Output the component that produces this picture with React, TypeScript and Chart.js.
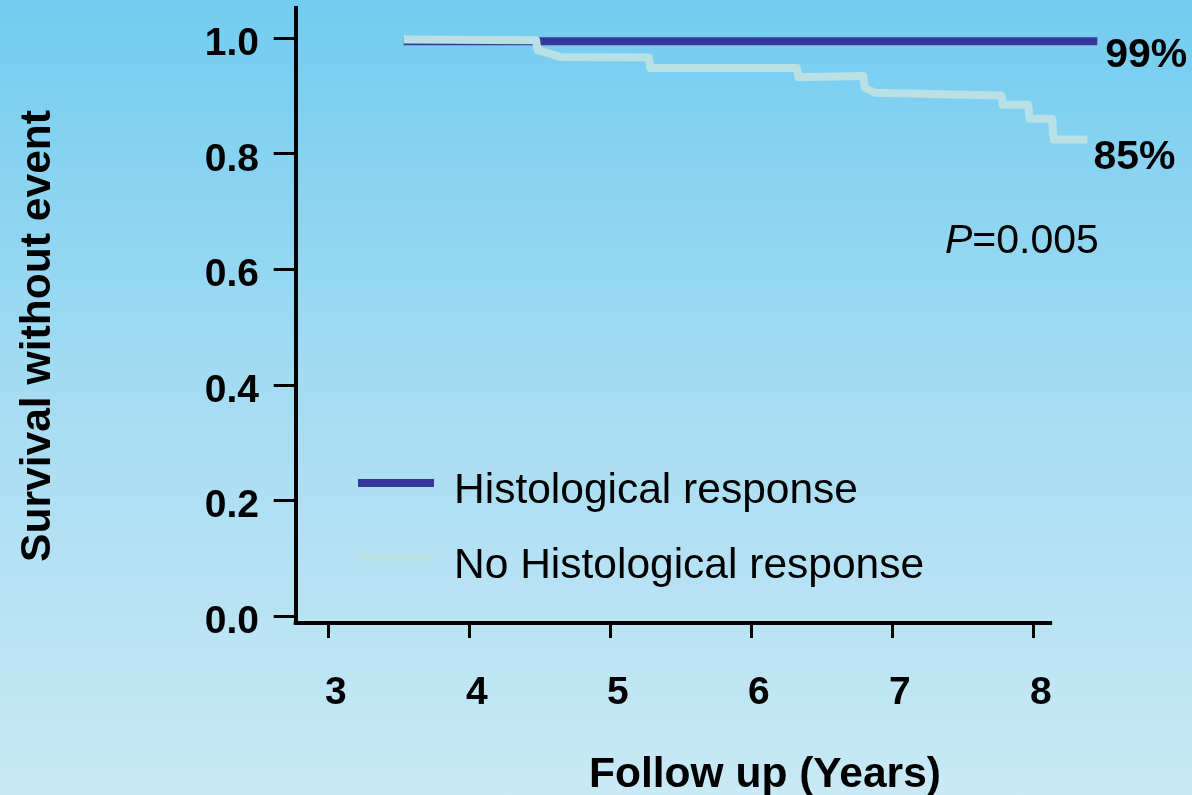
import React, { useEffect, useRef } from 'react';
import { Chart, registerables } from 'chart.js';

Chart.register(...registerables);

const FONT = '"Liberation Sans", Arial, Helvetica, sans-serif';

// ---- data ----
const seriesLabels = ['Histological response', 'No Histological response'];
const seriesColors = ['#37379B', '#B8E0E5'];
const histX = [3.53, 8.45];
const histY = [0.995, 0.995];
const noHistX = [3.53, 4.47, 4.48, 4.64, 5.27, 5.28, 6.32, 6.33, 6.79, 6.8, 6.87, 7.77, 7.78, 7.96, 7.97, 8.13, 8.14, 8.38];
const noHistY = [0.998, 0.997, 0.98, 0.968, 0.967, 0.949, 0.949, 0.933, 0.935, 0.915, 0.906, 0.901, 0.885, 0.885, 0.861, 0.861, 0.825, 0.825];
const xTicks = [3, 4, 5, 6, 7, 8];
const yTicks = [0, 0.2, 0.4, 0.6, 0.8, 1.0];
const endLabels = ['99%', '85%'];
const pLabelItalic = 'P';
const pLabelRest = '=0.005';
const xTitle = 'Follow up (Years)';
const yTitle = 'Survival without event';

// axis extents (data units)
const X_MIN = 2.765;
const X_MAX = 8.5;
const X_AXIS_END = 8.13;
const Y_MIN = -0.012;
const Y_MAX = 1.052;
const P_ANCHOR = { x: 7.37, y: 0.629 };

const decorPlugin = {
  id: 'decor',
  afterDatasetsDraw(chart: any) {
    const { ctx, chartArea, scales } = chart;
    const xs = scales.x;
    const ys = scales.y;
    ctx.save();
    // x axis line (ends before the plot's right edge)
    ctx.strokeStyle = '#000';
    ctx.lineWidth = 4;
    ctx.lineCap = 'butt';
    ctx.beginPath();
    ctx.moveTo(chartArea.left - 2, chartArea.bottom);
    ctx.lineTo(xs.getPixelForValue(X_AXIS_END), chartArea.bottom);
    ctx.stroke();

    // end labels
    ctx.fillStyle = '#000';
    ctx.textAlign = 'left';
    ctx.textBaseline = 'alphabetic';
    ctx.font = `bold 41px ${FONT}`;
    const hx = xs.getPixelForValue(histX[histX.length - 1]);
    const hy = ys.getPixelForValue(histY[histY.length - 1]);
    ctx.fillText(endLabels[0], hx + 8, hy + 26);
    const nx = xs.getPixelForValue(noHistX[noHistX.length - 1]);
    const ny = ys.getPixelForValue(noHistY[noHistY.length - 1]);
    ctx.fillText(endLabels[1], nx + 6, ny + 29);

    // P value
    const px = xs.getPixelForValue(P_ANCHOR.x);
    const py = ys.getPixelForValue(P_ANCHOR.y);
    ctx.font = `italic 41px ${FONT}`;
    ctx.fillText(pLabelItalic, px, py);
    const pw = ctx.measureText(pLabelItalic).width;
    ctx.font = `41px ${FONT}`;
    ctx.fillText(pLabelRest, px + pw, py);

    // legend
    const legendRows = [
      { lineY: 483, textY: 503 },
      { lineY: 557, textY: 578 },
    ];
    legendRows.forEach((row, i) => {
      ctx.strokeStyle = seriesColors[i];
      ctx.lineWidth = 8;
      ctx.beginPath();
      ctx.moveTo(358, row.lineY);
      ctx.lineTo(434, row.lineY);
      ctx.stroke();
      ctx.fillStyle = '#000';
      ctx.font = `42.5px ${FONT}`;
      ctx.fillText(seriesLabels[i], 454, row.textY);
    });

    // axis titles
    ctx.font = `bold 42.5px ${FONT}`;
    ctx.textAlign = 'center';
    ctx.fillText(xTitle, 765, 787);
    ctx.save();
    ctx.translate(50, 336);
    ctx.rotate(-Math.PI / 2);
    ctx.font = `bold 42.6px ${FONT}`;
    ctx.fillText(yTitle, 0, 0);
    ctx.restore();
    ctx.restore();
  },
};

export default function App() {
  const ref = useRef<HTMLCanvasElement>(null);
  useEffect(() => {
    document.body.style.margin = '0';
    const chart = new Chart(ref.current as HTMLCanvasElement, {
      type: 'line',
      data: {
        datasets: [
          {
            label: seriesLabels[1],
            data: noHistX.map((x, i) => ({ x, y: noHistY[i] })),
            borderColor: seriesColors[1],
            borderWidth: 8,
            borderJoinStyle: 'round',
            pointRadius: 0,
            tension: 0,
            order: 0,
            clip: false,
          } as any,
          {
            label: seriesLabels[0],
            data: histX.map((x, i) => ({ x, y: histY[i] })),
            borderColor: seriesColors[0],
            borderWidth: 8,
            pointRadius: 0,
            tension: 0,
            order: 1,
            clip: false,
          } as any,
        ],
      },
      options: {
        animation: false,
        responsive: false,
        devicePixelRatio: 1,
        events: [],
        layout: { padding: { left: 0, top: 8.4, right: 87.7, bottom: 0 } },
        plugins: { legend: { display: false }, tooltip: { enabled: false }, title: { display: false } },
        scales: {
          x: {
            type: 'linear',
            min: X_MIN,
            max: X_MAX,
            afterBuildTicks: (s: any) => {
              s.ticks = xTicks.map((v) => ({ value: v }));
            },
            afterFit: (s: any) => {
              s.height = 172;
              s.paddingLeft = 0;
              s.paddingRight = 0;
            },
            border: { display: false },
            grid: { display: true, drawOnChartArea: false, drawTicks: true, tickLength: 15, tickWidth: 3, tickColor: '#000' },
            ticks: {
              autoSkip: false,
              maxRotation: 0,
              padding: 32,
              labelOffset: 7,
              color: '#000',
              font: { family: FONT, size: 39, weight: 'bold' },
              callback: (v: any) => String(v),
            },
          },
          y: {
            type: 'linear',
            min: Y_MIN,
            max: Y_MAX,
            afterBuildTicks: (s: any) => {
              s.ticks = yTicks.map((v) => ({ value: v }));
            },
            afterFit: (s: any) => {
              s.width = 295.7;
              s.paddingTop = 0;
              s.paddingBottom = 0;
            },
            border: { display: true, color: '#000', width: 4 },
            grid: { display: true, drawOnChartArea: false, drawTicks: true, tickLength: 22, tickWidth: 3, tickColor: '#000' },
            ticks: {
              autoSkip: false,
              padding: 14.7,
              labelOffset: 6,
              color: '#000',
              font: { family: FONT, size: 39, weight: 'bold' },
              callback: (v: any) => Number(v).toFixed(1),
            },
          },
        },
      } as any,
      plugins: [decorPlugin],
    });
    return () => chart.destroy();
  }, []);
  return (
    <div
      style={{
        position: 'absolute',
        left: 0,
        top: 0,
        width: 1192,
        height: 795,
        background: 'linear-gradient(to bottom, #72CCF0 0%, #A5DCF2 50%, #C9E9F5 100%)',
      }}
    >
      <canvas ref={ref} width={1192} height={795} style={{ display: 'block', width: 1192, height: 795 }} />
    </div>
  );
}
